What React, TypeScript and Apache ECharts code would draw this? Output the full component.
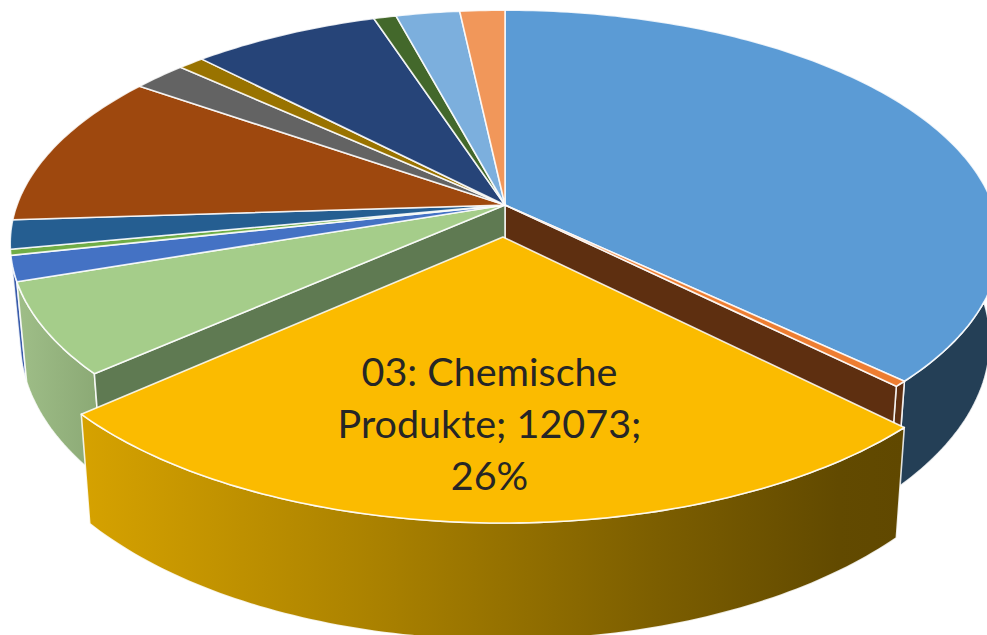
import React, { useEffect, useRef } from "react";
import * as echarts from "echarts";

const sliceNames = ["01", "02", "03: Chemische Produkte", "04", "05", "06", "07", "08", "09", "10", "11", "12", "13", "14"];
const sliceValues = [17207, 180, 12073, 2937, 813, 190, 929, 4979, 955, 465, 3341, 400, 1135, 800];
const topColors = ["#5b9bd5", "#ed7d31", "#fbbb00", "#a5cd8a", "#4472c4", "#70ad47", "#255e91", "#9e480e", "#636363", "#997300", "#264478", "#43682b", "#7cafdd", "#f1975a"];
const wallColors = ["#243f56", "#5e2f10", "#fbbb00", "#5f7a52", "#3a5cab", "#4a7330", "#1a4266", "#6e320a", "#444444", "#6b5000", "#1a2f54", "#2e481d", "#56799a", "#a8683e"];
const explodedIndex = 2;
const labelPercent = 26;

const CX = 505, CY = 205, A = 488, B = 227, P = 0.165, EXPLODE = 0.138, DEPTH = 95, SHRINK = 0.98;
const total = sliceValues.reduce((s, v) => s + v, 0);
const starts: number[] = [];
sliceValues.reduce((acc, v, i) => { starts[i] = acc; return acc + v; }, 0);

function project(X: number, Y: number, down: boolean): number[] {
  const f = 1 / (1 - P * Y);
  const sx = A * X * f;
  const sy = B * Y * f;
  return down ? [CX + sx * SHRINK, CY + sy + DEPTH * f] : [CX + sx, CY + sy];
}

function rimPoints(a0: number, a1: number, ex: number[], down: boolean): number[][] {
  const n = Math.max(2, Math.ceil((a1 - a0) * 60));
  const pts: number[][] = [];
  for (let i = 0; i <= n; i++) {
    const a = a0 + ((a1 - a0) * i) / n;
    pts.push(project(Math.sin(a) + ex[0], -Math.cos(a) + ex[1], down));
  }
  return pts;
}

function renderSlice(_params: any, api: any) {
  const i = api.value(0) as number;
  const v = api.value(1) as number;
  const a0 = (starts[i] / total) * Math.PI * 2;
  const a1 = ((starts[i] + v) / total) * Math.PI * 2;
  const mid = (a0 + a1) / 2;
  const isEx = i === explodedIndex;
  const ex = isEx ? [Math.sin(mid) * EXPLODE, -Math.cos(mid) * EXPLODE] : [0, 0];
  const top = rimPoints(a0, a1, ex, false);
  const bottom = rimPoints(a0, a1, ex, true);
  const apex = project(ex[0], ex[1], false);
  const apexDown = project(ex[0], ex[1], true);
  const stroke = { stroke: "rgba(255,255,255,0.85)", lineWidth: 1.6, lineJoin: "round" };

  let wallFill: any = wallColors[i];
  if (isEx) {
    wallFill = new echarts.graphic.LinearGradient(0, 0, 1, 0, [
      { offset: 0, color: "#d6a200" },
      { offset: 0.35, color: "#ab8200" },
      { offset: 0.7, color: "#7c5e00" },
      { offset: 0.92, color: "#624a00" },
      { offset: 1, color: "#604800" },
    ]);
  } else if (i === 3) {
    wallFill = new echarts.graphic.LinearGradient(0, 0, 1, 0, [
      { offset: 0, color: "#9fbe88" },
      { offset: 1, color: "#8aa874" },
    ]);
  }

  const children: any[] = [
    {
      type: "polygon",
      z2: isEx ? 40 : i < explodedIndex ? 15 : 20 - i,
      shape: { points: [...top, ...bottom.slice().reverse()] },
      style: { fill: wallFill, ...stroke },
    },
    {
      type: "polygon",
      z2: isEx ? 50 : 30,
      shape: { points: [apex, ...top] },
      style: { fill: topColors[i], ...stroke },
    },
  ];

  // Walls exposed by the exploded slice: the faces of its two neighbours.
  if (i === explodedIndex - 1) {
    const e = top[top.length - 1], d = bottom[bottom.length - 1];
    children.push({ type: "polygon", z2: 20, shape: { points: [apex, e, d, apexDown] }, style: { fill: wallColors[i], ...stroke } });
  }
  if (i === explodedIndex + 1) {
    const e = top[0], d = bottom[0];
    children.push({ type: "polygon", z2: 20, shape: { points: [apex, e, d, apexDown] }, style: { fill: wallColors[i], ...stroke } });
  }

  if (isEx) {
    const name = sliceNames[i].split(" ");
    children.push({
      type: "text",
      z2: 60,
      style: {
        x: 489.5,
        y: 422,
        text: `${name[0]} ${name[1]}\n${name[2]}; ${v};\n${labelPercent}%`,
        fill: "#262626",
        font: '39.5px Lato, "Open Sans", sans-serif',
        lineHeight: 52,
        align: "center",
        verticalAlign: "middle",
      },
    });
  }
  return { type: "group", children };
}

export default function App() {
  const ref = useRef<HTMLDivElement>(null);
  useEffect(() => {
    const chart = echarts.init(ref.current!, undefined, { renderer: "svg" });
    chart.setOption({
      animation: false,
      backgroundColor: "#ffffff",
      series: [
        {
          type: "custom",
          coordinateSystem: "none",
          renderItem: renderSlice,
          data: sliceValues.map((v, i) => [i, v]),
          encode: { value: [1] },
          silent: true,
          clip: false,
        },
      ],
    });
    return () => chart.dispose();
  }, []);
  return <div ref={ref} style={{ position: "fixed", left: 0, top: 0, width: 987, height: 635 }} />;
}
